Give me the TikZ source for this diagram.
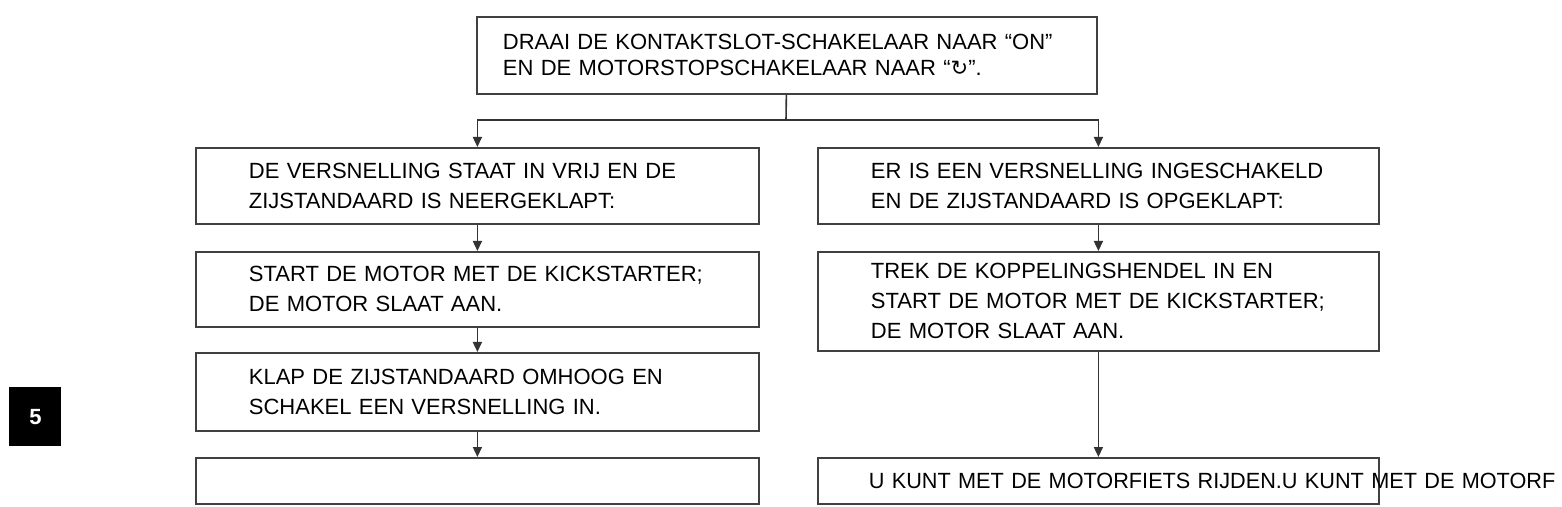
\documentclass[tikz,border=0pt]{standalone}
\usepackage{fontspec}
\setmainfont{Liberation Sans}
\newfontfamily\smalfont[FakeStretch=0.985]{Liberation Sans}
\newfontfamily\symboolfont{DejaVu Sans}
\usetikzlibrary{arrows.meta}
\newcommand{\tekst}{\fontsize{11}{15}\selectfont}
\tikzstyle{stap} = [draw=black!75, line width=0.9pt, anchor=north west, align=left, inner xsep=26.5pt, inner ysep=0pt, text width=228.5pt, font=\tekst]
\tikzstyle{lijn} = [draw=black!80, line width=0.8pt]
\tikzstyle{pijl} = [lijn, -{Triangle[length=5pt,width=4.5pt]}]

\begin{document}
\begin{tikzpicture}[x=0.5pt, y=-0.5pt]
	\useasboundingbox (0,0) rectangle (1562,507);
	% First the steps
	\node[stap, inner xsep=13pt, text width=284pt, minimum height=38.5pt, font=\fontsize{11}{13}\selectfont] (start) at (476,16)
		{DRAAI DE KONTAKTSLOT-SCHAKELAAR NAAR “ON”\\EN DE MOTORSTOPSCHAKELAAR NAAR “{\symboolfont\fontsize{10.5}{10}\selectfont ↻}”.};
	\node[stap, minimum height=38pt] (vrij) at (195,147) {DE VERSNELLING STAAT IN VRIJ EN DE\\ZIJSTANDAARD IS NEERGEKLAPT:};
	\node[stap, minimum height=37.5pt] (kick) at (195,251) {START DE MOTOR MET DE KICKSTARTER;\\DE MOTOR SLAAT AAN.};
	\node[stap, minimum height=39pt] (klap) at (195,352) {KLAP DE ZIJSTANDAARD OMHOOG EN\\SCHAKEL EEN VERSNELLING IN.};
	\node[stap, minimum height=23pt] (leeg) at (195,457) {};
	\node[stap, text width=227.5pt, minimum height=38pt] (gang) at (817,147) {ER IS EEN VERSNELLING INGESCHAKELD\\EN DE ZIJSTANDAARD IS OPGEKLAPT:};
	\node[stap, text width=227.5pt, minimum height=49.5pt] (koppeling) at (817,251) {TREK DE KOPPELINGSHENDEL IN EN\\START DE MOTOR MET DE KICKSTARTER;\\DE MOTOR SLAAT AAN.};
	\node[stap, inner xsep=25.5pt, text width=229.5pt, minimum height=23pt, font=\tekst\smalfont] (rijden) at (817,457) {\rlap{U KUNT MET DE MOTORFIETS RIJDEN.U KUNT MET DE MOTORF}};

	% Chapter tab
	\node[fill=black, anchor=north west, minimum width=26pt, minimum height=29.5pt, inner sep=0pt, text=white, font=\fontsize{11}{11}\selectfont\bfseries] (hoofdstuk) at (9,387) {5};

	% Then the connectors
	\coordinate (splitsing) at (786,120);
	\path[lijn] (start) -- (splitsing);
	\path[pijl] (splitsing) -| (vrij);
	\path[pijl] (splitsing) -| (gang);
	\foreach \bron/\doel in {vrij/kick, kick/klap, klap/leeg, gang/koppeling, koppeling/rijden}
		\path[pijl] (\bron) -- (\doel);
\end{tikzpicture}
\end{document}
